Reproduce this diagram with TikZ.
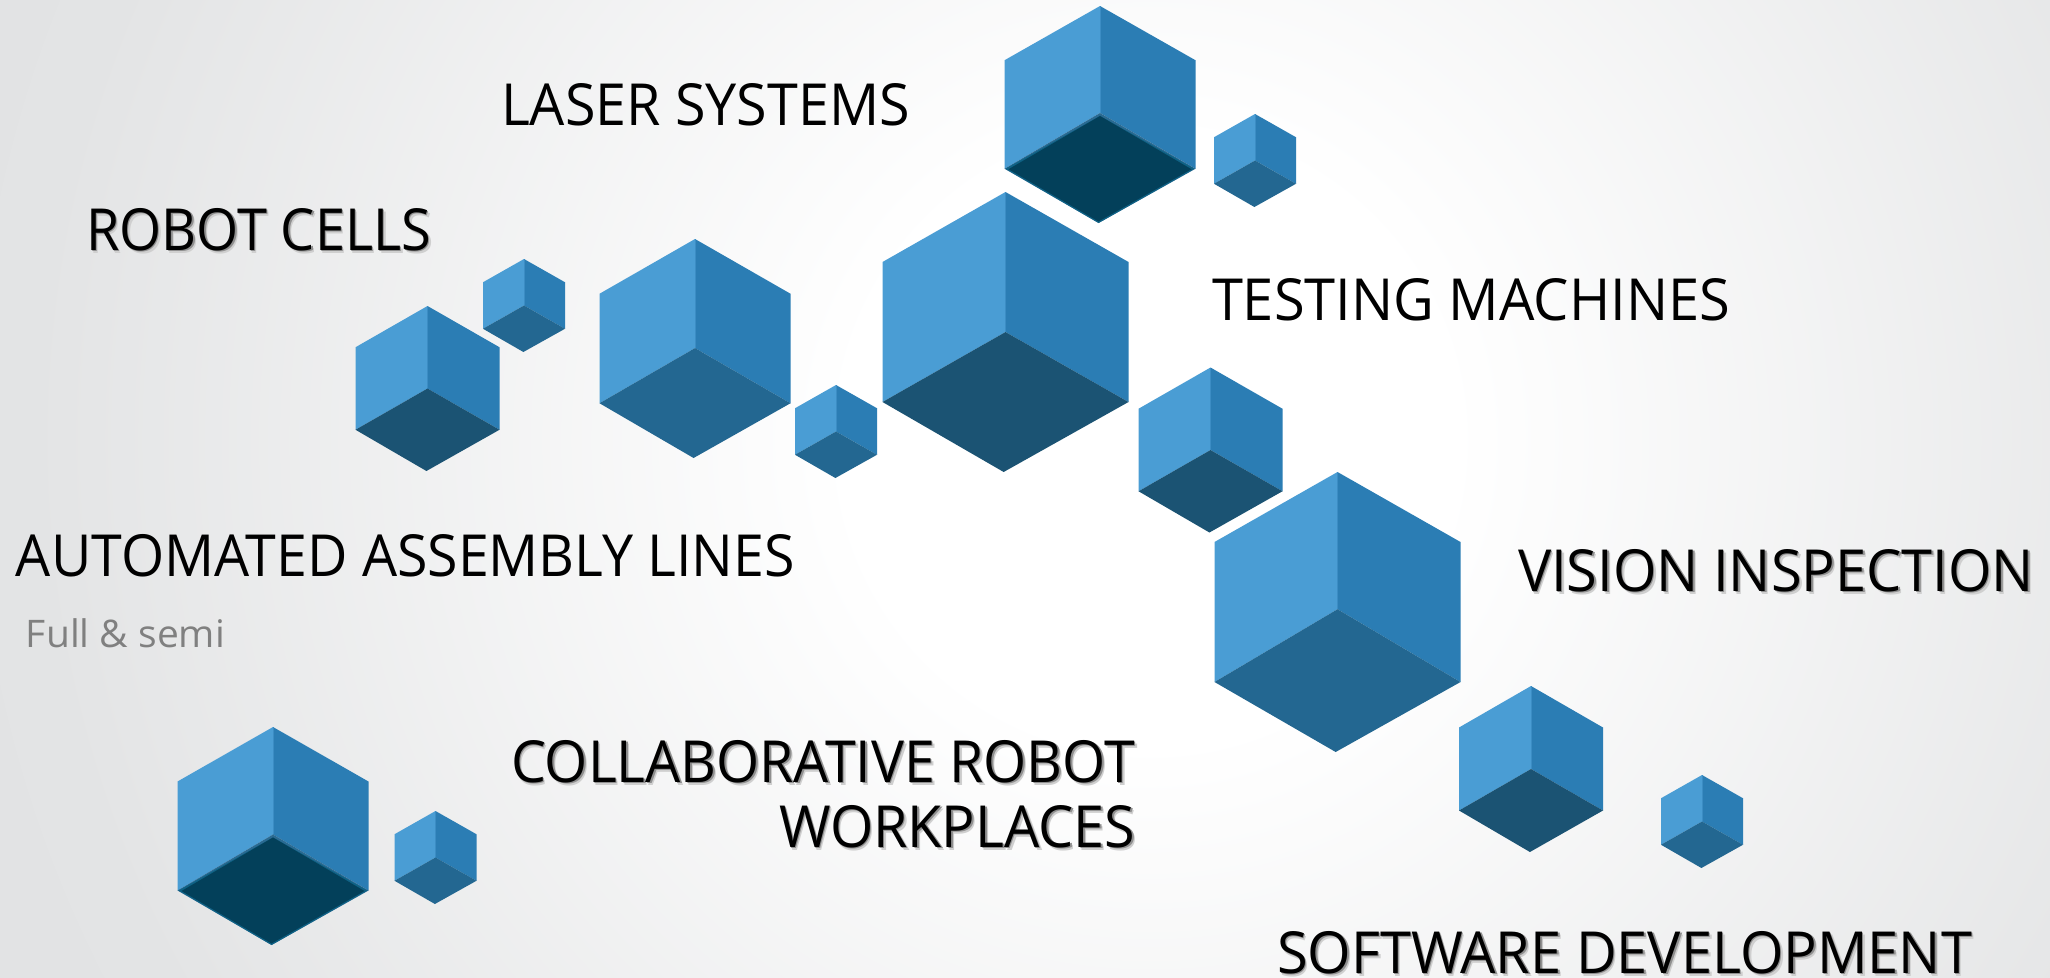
\documentclass[tikz,border=0pt]{standalone}
\usepackage{fontspec}
\usepackage{graphicx}
\setmainfont{Open Sans}
\definecolor{bgmid}{HTML}{E3E4E5}
\definecolor{bgedge}{HTML}{E1E2E3}
\definecolor{faceL}{HTML}{4A9DD4}
\definecolor{faceR}{HTML}{2B7DB4}
\definecolor{faceEdge}{HTML}{3C8DC4}
\definecolor{botA}{HTML}{03405A}
\definecolor{botB}{HTML}{1B5373}
\definecolor{botC}{HTML}{236791}
\definecolor{rimC}{HTML}{2A6A92}
\definecolor{rimT}{HTML}{0F6285}
\definecolor{shadowA}{HTML}{8F8F8F}
\definecolor{shadowB}{HTML}{CFCFCF}
\pgfdeclareradialshading{bgshade}{\pgfpoint{0bp}{0bp}}{color(0bp)=(white); color(5.6bp)=(white); color(20.7bp)=(bgmid); color(25bp)=(bgedge); color(50bp)=(bgedge)}
% cube: cx, top y, half width, height, bottom colour, apex ratio
\newcommand{\cubeshape}[6]{%
  \coordinate (T) at (#1,#2);
  \coordinate (UL) at ({#1-#3},{#2+0.25*#4});
  \coordinate (UR) at ({#1+#3},{#2+0.25*#4});
  \coordinate (LL) at ({#1-#3},{#2+0.75*#4});
  \coordinate (LR) at ({#1+#3},{#2+0.75*#4});
  \coordinate (C) at (#1,{#2+#6*#4});
  \coordinate (B) at ({#1-0.015*#3},{#2+#4});
  \fill[faceL] (T) -- (UL) -- (LL) -- (C) -- cycle;
  \fill[faceR] (T) -- (UR) -- (LR) -- (C) -- cycle;
  \draw[faceEdge,line width=0.8pt] (T) -- (C);
  \fill[#5] (C) -- (LL) -- (B) -- (LR) -- cycle;
}
% the same with a thin rim between the side faces and a very dark bottom
\newcommand{\cuberim}[4]{%
  \cubeshape{#1}{#2}{#3}{#4}{rimC}{0.493}
  \fill[rimT] ({#1-#3+1},{#2+0.75*#4}) -- (B) -- ({#1+#3-1},{#2+0.75*#4}) -- (#1,{#2+0.493*#4+3}) -- cycle;
  \fill[botA] (#1,{#2+0.493*#4+3}) -- ({#1-#3+4},{#2+0.75*#4+0.5}) -- ({#1-1.5},{#2+#4-1.5}) -- ({#1+#3-4},{#2+0.75*#4+0.5}) -- cycle;
}
\newcommand{\plainlbl}[2]{\resizebox{#1pt}{\height}{#2}}
\newcommand{\shadowlbl}[2]{\resizebox{#1pt}{\height}{\rlap{\kern3pt\raisebox{-3pt}{\textcolor{shadowB}{#2}}}\rlap{\kern1.6pt\raisebox{-1.6pt}{\textcolor{shadowA}{#2}}}#2}}
\tikzset{lbl/.style={anchor=base west,inner sep=0pt,outer sep=0pt,text=black,font=\fontsize{58}{60}\selectfont},
  sublbl/.style={anchor=base west,inner sep=0pt,outer sep=0pt,text=black!50,font=\fontsize{38}{40}\selectfont}}
\begin{document}
\begin{tikzpicture}[x=1pt,y=-1pt]
\useasboundingbox (0,0) rectangle (2050,977);
\begin{scope}
\clip (0,0) rectangle (2050,977);
\shade[shading=bgshade] (1150,440) circle (1350);
\end{scope}
% cubes
\cuberim{1100}{6}{95.5}{217}
\cubeshape{1255}{114}{41}{93}{botC}{0.5}
\cubeshape{1005.5}{192}{123}{280}{botB}{0.5}
\cubeshape{695}{239}{95.5}{219}{botC}{0.498}
\cubeshape{836}{385}{41}{93}{botC}{0.5}
\cubeshape{427.5}{306}{72}{165}{botB}{0.5}
\cubeshape{524}{259}{41}{93}{botC}{0.5}
\cubeshape{1210.5}{367.5}{72}{165}{botB}{0.5}
\cubeshape{1337.5}{472}{123}{280}{botC}{0.49}
\cubeshape{1531}{686}{72}{166}{botB}{0.5}
\cubeshape{1702}{775}{41}{93}{botC}{0.5}
\cuberim{273}{727}{95.5}{218}
\cubeshape{435.5}{811}{41}{93}{botC}{0.5}
% labels
\node[lbl] (laser) at (501,125) {\plainlbl{409}{LASER SYSTEMS}};
\node[lbl] (robot) at (86,250) {\shadowlbl{345}{ROBOT CELLS}};
\node[lbl] (test) at (1212,320) {\plainlbl{518}{TESTING MACHINES}};
\node[lbl] (auto) at (16,576) {\plainlbl{779}{AUTOMATED ASSEMBLY LINES}};
\node[sublbl] (full) at (26,647) {\plainlbl{199}{Full \& semi}};
\node[lbl] (vision) at (1518,591) {\shadowlbl{516}{VISION INSPECTION}};
\node[lbl] (collab) at (511,782) {\shadowlbl{624}{COLLABORATIVE ROBOT}};
\node[lbl] (work) at (779,847) {\shadowlbl{356}{WORKPLACES}};
\node[lbl] (soft) at (1277,973) {\shadowlbl{695}{SOFTWARE DEVELOPMENT}};
\end{tikzpicture}
\end{document}
